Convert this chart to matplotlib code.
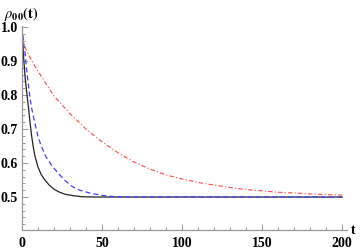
import numpy as np
import matplotlib
matplotlib.use('Agg')
import matplotlib.pyplot as plt
from matplotlib.ticker import MultipleLocator

# values
t_black = [0, 1, 2, 3, 4, 5, 6, 7, 8, 10, 12, 14, 17, 20, 23, 27, 32, 37, 45, 60, 100, 150, 200]
rho_black = [1.0, 0.91, 0.85, 0.805, 0.765, 0.72, 0.68, 0.648, 0.622, 0.588, 0.566, 0.552,
             0.535, 0.523, 0.515, 0.508, 0.504, 0.501, 0.5, 0.5, 0.5, 0.5, 0.5]

t_blue = [0, 1, 2, 3, 4, 5, 6, 8, 10, 12, 15, 19, 23, 27, 31, 36, 43, 50, 55, 65, 100, 150, 200]
rho_blue = [1.0, 0.955, 0.92, 0.87, 0.83, 0.792, 0.762, 0.718, 0.678, 0.65, 0.618, 0.59,
            0.568, 0.548, 0.532, 0.52, 0.511, 0.505, 0.502, 0.5, 0.5, 0.5, 0.5]

t_red = [0, 0.6, 5, 10, 20, 30, 40, 50, 60, 70, 80, 90, 100, 110, 120, 130, 140, 150,
         160, 170, 180, 190, 200]
rho_red = [1.0, 0.953, 0.91, 0.87, 0.797, 0.745, 0.70, 0.662, 0.630, 0.603, 0.582, 0.565,
           0.553, 0.543, 0.535, 0.528, 0.522, 0.518, 0.514, 0.512, 0.509, 0.507, 0.506]

x_ticks = [0, 50, 100, 150, 200]
y_ticks = [0.5, 0.6, 0.7, 0.8, 0.9, 1.0]

plt.rcParams['font.family'] = ['Liberation Serif', 'DejaVu Serif']
plt.rcParams['mathtext.fontset'] = 'stix'

fig = plt.figure(figsize=(3.61, 2.52), dpi=100)
ax = fig.add_axes([22 / 361, 22 / 252, 325 / 361, 204 / 252])

ax.plot(t_black, rho_black, color='#222222', lw=0.9)
ax.plot(t_blue, rho_blue, color='#4040ff', lw=0.9, dashes=(4, 2.5))
ax.plot(t_red, rho_red, color='#ff4848', lw=0.8, dashes=(4, 2, 1, 2))

ax.set_xlim(0, 203)
ax.set_ylim(0.403, 1.003)

for s in ['top', 'right']:
    ax.spines[s].set_visible(False)
for s in ['left', 'bottom']:
    ax.spines[s].set_color('#999999')
    ax.spines[s].set_linewidth(0.9)

ax.set_xticks(x_ticks)
ax.set_yticks(y_ticks)
ax.set_yticklabels([f'{v:.1f}' for v in y_ticks])
ax.xaxis.set_minor_locator(MultipleLocator(10))
ax.yaxis.set_minor_locator(MultipleLocator(0.02))
ax.tick_params(which='both', direction='in', color='#999999', width=0.7)
ax.tick_params(which='major', length=4, labelsize=10)
ax.tick_params(which='minor', length=2)
ax.tick_params(axis='x', pad=5)
ax.tick_params(axis='y', pad=3)
for lab in ax.get_xticklabels() + ax.get_yticklabels():
    lab.set_fontweight('bold')

fig.text(4 / 361, 1 - 14 / 252, r'$\rho_{\mathbf{00}}\mathbf{(t)}$', fontsize=10.5,
         va='center', ha='left')
fig.text(351 / 361, 21 / 252, 't', fontsize=10, fontweight='bold',
         va='center', ha='left')

fig.savefig('out.png', dpi=100)
